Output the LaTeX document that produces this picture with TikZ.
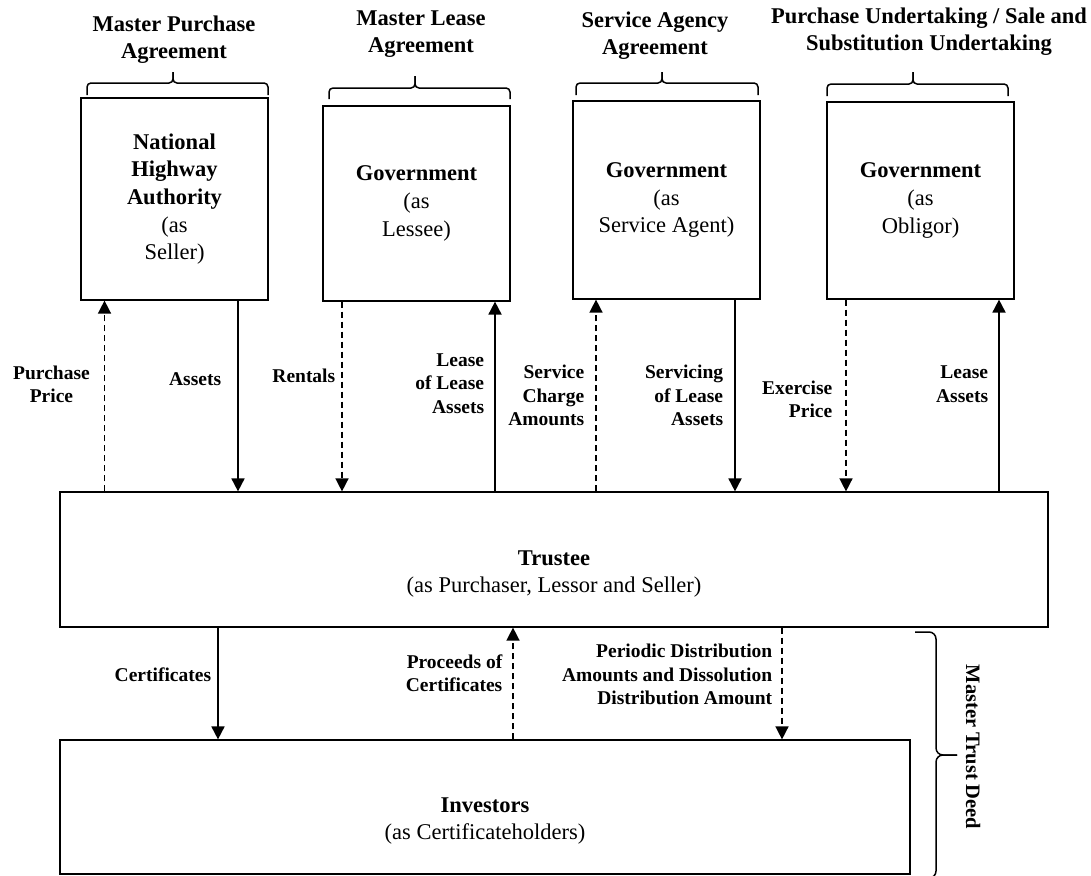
\documentclass[tikz,border=0pt]{standalone}
\usepackage{fontspec}
\setmainfont{Liberation Serif}
\usetikzlibrary{arrows.meta}

\begin{document}
\begin{tikzpicture}[x=1pt, y=-1pt,
    txt/.style={align=center, inner sep=0pt, font=\fontsize{22.5}{27.7}\selectfont},
    box/.style={txt, draw, line width=1.2pt, minimum width=187pt},
    agr/.style={align=center, inner sep=0pt, font=\bfseries\fontsize{22.5}{27}\selectfont},
    lbl/.style={align=right, inner sep=0pt, font=\bfseries\fontsize{19.5}{23.5}\selectfont},
    arr/.style={line width=1.8pt, -{Triangle[length=13pt, width=13pt]}},
    dsh/.style={arr, line width=1.5pt, dash pattern=on 6pt off 4pt},
    brc/.style={line width=1.5pt, rounded corners=#1},
    brc/.default=4pt]
    \useasboundingbox (0,0) rectangle (1091,875);

    \node[box, minimum height=202pt] (nha) at (174.5,199) {\textbf{National}\\\textbf{Highway}\\\textbf{Authority}\\(as\\Seller)};
    \node[box, minimum height=195pt] (gl) at (416.5,203.5) {\textbf{Government}\\(as\\Lessee)};
    \node[box, minimum height=198pt] (gs) at (666.5,200) {\textbf{Government}\\(as\\Service Agent)};
    \node[box, minimum height=197pt] (go) at (920.5,200.5) {\textbf{Government}\\(as\\Obligor)};
    \node[box, minimum width=988pt, minimum height=135pt] (t) at (554,559.5) {};
    \node[txt] (tt) at (554,574) {\textbf{Trustee}\\(as Purchaser, Lessor and Seller)};
    \node[box, minimum width=850pt, minimum height=134pt] (inv) at (485,807) {};
    \node[txt] (it) at (485,821) {\textbf{Investors}\\(as Certificateholders)};

    \draw[brc] (87,95) |- (173,83) -- (173,72);
    \draw[brc] (268,95) |- (173,83) -- (173,72);
    \draw[brc] (329,99) |- (415,88) -- (415,76);
    \draw[brc] (510,99) |- (415,88) -- (415,76);
    \draw[brc] (576,95) |- (662,83) -- (662,72);
    \draw[brc] (758,95) |- (662,83) -- (662,72);
    \draw[brc] (827,96) |- (913,84) -- (913,72);
    \draw[brc] (1008,96) |- (913,84) -- (913,72);
    \draw[brc=7pt] (915,632) -| (936,755) -- (957,755);
    \draw[brc=7pt] (915,878) -| (936,755) -- (957,755);

    \node[agr] (mpa) at (174,40) {Master Purchase\\Agreement};
    \node[agr] (mla) at (421,34) {Master Lease\\Agreement};
    \node[agr] (saa) at (655,36) {Service Agency\\Agreement};
    \node[agr] (pu) at (929,32) {Purchase Undertaking / Sale and\\Substitution Undertaking};
    \node[agr, rotate=-90, font=\bfseries\fontsize{20.5}{24}\selectfont] (mtd) at (973,747) {Master Trust Deed};

    \draw[dsh] (t.north -| 104.5,0) -- node[lbl, align=center, pos=0.56, left=14pt] {Purchase\\Price} (nha.south -| 104.5,0);
    \draw[arr] (nha.south -| 238,0) -- node[lbl, pos=0.41, left=16pt] {Assets} (t.north -| 238,0);
    \draw[dsh] (gl.south -| 342,0) -- node[lbl, pos=0.39, left=6pt] {Rentals} (t.north -| 342,0);
    \draw[arr] (t.north -| 495,0) -- node[lbl, pos=0.57, left=10pt] {Lease\\of Lease\\Assets} (gl.south -| 495,0);
    \draw[dsh] (t.north -| 596,0) -- node[lbl, pos=0.5, left=11pt] {Service\\Charge\\Amounts} (gs.south -| 596,0);
    \draw[arr] (gs.south -| 735,0) -- node[lbl, pos=0.5, left=11pt] {Servicing\\of Lease\\Assets} (t.north -| 735,0);
    \draw[dsh] (go.south -| 846,0) -- node[lbl, pos=0.52, left=13pt] {Exercise\\Price} (t.north -| 846,0);
    \draw[arr] (t.north -| 999,0) -- node[lbl, pos=0.56, left=10pt] {Lease\\Assets} (go.south -| 999,0);

    \draw[arr] (t.south -| 218,0) -- node[lbl, pos=0.42, left=6pt] {Certificates} (inv.north -| 218,0);
    \draw[dsh] (inv.north -| 513,0) -- node[lbl, pos=0.59, left=10pt] {Proceeds of\\Certificates} (t.south -| 513,0);
    \draw[dsh] (t.south -| 782,0) -- node[lbl, pos=0.42, left=9pt] {Periodic Distribution\\Amounts and Dissolution\\Distribution Amount} (inv.north -| 782,0);
\end{tikzpicture}
\end{document}
